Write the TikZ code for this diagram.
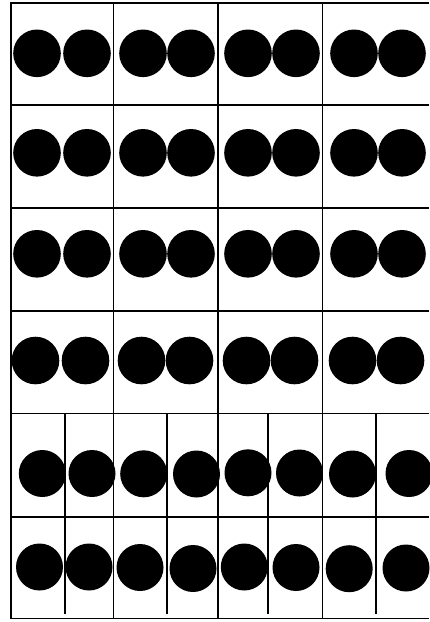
\documentclass[tikz,border=0pt]{standalone}
\begin{document}
\begin{tikzpicture}[x=1pt,y=-1pt,
  gridline/.style={line width=1.6pt,black},
  halfline/.style={line width=1.6pt,black},
  bigdot/.style={circle,fill=black,inner sep=0pt,minimum size=47.6pt},
  smalldot/.style={circle,fill=black,inner sep=0pt,minimum size=47pt}]
\useasboundingbox (0,0) rectangle (429,622);
% outer frame (right edge lies beyond the picture)
\draw[gridline] (429,2.7) -- (10.7,2.7) -- (10.7,618.3) -- (429,618.3);
% row lines
\foreach \yy in {105,208,311,413.3,516.7}
  \draw[gridline] (10.7,\yy) -- (429,\yy);
% column lines
\foreach \xx in {113.3,218,322.3}
  \draw[gridline] (\xx,2.7) -- (\xx,618.3);
% half lines in the two bottom rows
\foreach \xx in {65,166.7,267.7,376}
  \draw[halfline] (\xx,413.3) -- (\xx,614);
% rows 1-4
\foreach \xx [count=\i] in {37,87,143,191,248,296,354,402}{
  \node[bigdot] (a\i) at (\xx,53.3) {};
  \node[bigdot] (b\i) at (\xx,152.8) {};
  \node[bigdot] (c\i) at (\xx,253.8) {};
  \node[bigdot] (d\i) at (\xx-1.5,360.5) {};
}
% row 5
\foreach \xx/\yy [count=\i] in {42.3/473.5,92/473.5,143.7/473.8,196.5/474,248/472.8,299.5/473,352.5/474,409/473.5}
  \node[smalldot] (e\i) at (\xx,\yy) {};
% row 6
\foreach \xx/\yy [count=\i] in {39.5/567,89/567,140/567.5,193/568.5,244.3/567,296/567.5,349.2/568.7,406/568}
  \node[smalldot] (f\i) at (\xx,\yy) {};
\end{tikzpicture}
\end{document}
